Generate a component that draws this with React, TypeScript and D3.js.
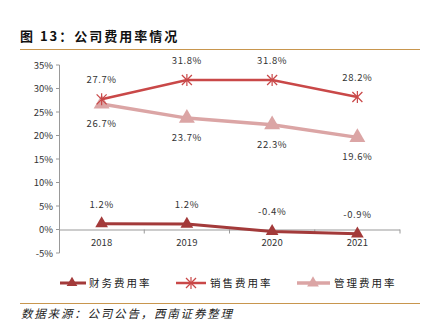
import React from "react";
import * as d3 from "d3";

const years = ["2018", "2019", "2020", "2021"];
const finance = [1.24, 1.17, -0.4, -0.9];
const sales = [27.7, 31.8, 31.8, 28.2];
const admin = [26.7, 23.7, 22.3, 19.6];
const yTicks = [-5, 0, 5, 10, 15, 20, 25, 30, 35];
const seriesNames = ["财务费用率", "销售费用率", "管理费用率"];

const W = 429, H = 331;
const font = "'Noto Sans CJK SC', 'DejaVu Sans', sans-serif";

export default function App() {
  const x = d3.scaleBand<string>().domain(years).range([59, 400]);
  const y = d3.scaleLinear().domain([-5, 35]).range([253, 65]);
  const cx = (d: string) => (x(d) as number) + x.bandwidth() / 2;
  const line = d3.line<number>().x((_, i) => cx(years[i])).y((v) => y(v));
  const tri = d3.symbol().type(d3.symbolTriangle);

  const cFin = "#A33A3A";
  const cSal = "#C94848";
  const cAdm = "#DBA5A5";

  const cross = (px: number, py: number, c: string, k: string) => (
    <g key={k} stroke={c} strokeWidth={1.2}>
      <line x1={px - 5} y1={py - 5} x2={px + 5} y2={py + 5} />
      <line x1={px - 5} y1={py + 5} x2={px + 5} y2={py - 5} />
      <line x1={px} y1={py - 6} x2={px} y2={py + 6} />
    </g>
  );

  const fmt = (v: number) => v.toFixed(1) + "%";

  return (
    <svg width={W} height={H} style={{ position: "absolute", left: 0, top: 0, background: "#fff" }} fontFamily={font}>
      <text x={20} y={41} fontSize={13} fontWeight="bold" fill="#111" letterSpacing={2}>图 13：公司费用率情况</text>
      <line x1={20} x2={420} y1={49.5} y2={49.5} stroke="#C8964E" strokeWidth={1} />

      {/* y axis */}
      <line x1={59.5} x2={59.5} y1={y(35)} y2={y(-5)} stroke="#999" />
      {yTicks.map((t) => (
        <g key={t}>
          <line x1={56} x2={59.5} y1={y(t)} y2={y(t)} stroke="#999" />
          <text x={53} y={y(t) + 3.5} fontSize={9.5} textAnchor="end" fill="#333">{t}%</text>
        </g>
      ))}
      {/* x axis */}
      <line x1={59.5} x2={400} y1={y(0) + 0.5} y2={y(0) + 0.5} stroke="#999" />
      {years.map((d) => (
        <g key={d}>
          <line x1={(x(d) as number) + x.bandwidth()} x2={(x(d) as number) + x.bandwidth()} y1={y(0)} y2={y(0) + 4} stroke="#999" />
          <text x={cx(d)} y={y(0) + 16} fontSize={9.5} textAnchor="middle" fill="#333">{d}</text>
        </g>
      ))}

      {/* admin */}
      <path d={line(admin) as string} fill="none" stroke={cAdm} strokeWidth={3.5} />
      {admin.map((v, i) => (
        <path key={i} d={tri.size(110)() as string} transform={`translate(${cx(years[i])},${y(v)})`} fill={cAdm} />
      ))}
      {admin.map((v, i) => (
        <text key={i} x={cx(years[i])} y={y(v) + 23} fontSize={9.5} textAnchor="middle" fill="#333" letterSpacing={0.6}>{fmt(v)}</text>
      ))}

      {/* sales */}
      <path d={line(sales) as string} fill="none" stroke={cSal} strokeWidth={2.5} />
      {sales.map((v, i) => cross(cx(years[i]), y(v), cSal, "s" + i))}
      {sales.map((v, i) => (
        <text key={i} x={cx(years[i])} y={y(v) - 16} fontSize={9.5} textAnchor="middle" fill="#333" letterSpacing={0.6}>{fmt(v)}</text>
      ))}

      {/* finance */}
      <path d={line(finance) as string} fill="none" stroke={cFin} strokeWidth={3} />
      {finance.map((v, i) => (
        <path key={i} d={tri.size(70)() as string} transform={`translate(${cx(years[i])},${y(v)})`} fill={cFin} />
      ))}
      {finance.map((v, i) => (
        <text key={i} x={cx(years[i])} y={y(v) - 16} fontSize={9.5} textAnchor="middle" fill="#333" letterSpacing={0.6}>{fmt(v)}</text>
      ))}

      {/* legend */}
      <g>
        <line x1={60} x2={86} y1={283} y2={283} stroke={cFin} strokeWidth={3} />
        <path d={tri.size(50)() as string} transform="translate(72,283)" fill={cFin} />
        <text x={89} y={287} fontSize={10.5} fill="#222" letterSpacing={2}>{seriesNames[0]}</text>
        <line x1={176} x2={206} y1={283} y2={283} stroke={cSal} strokeWidth={2.5} />
        {cross(191, 283, cSal, "lg")}
        <text x={210} y={287} fontSize={10.5} fill="#222" letterSpacing={2}>{seriesNames[1]}</text>
        <line x1={297} x2={330} y1={283} y2={283} stroke={cAdm} strokeWidth={3.5} />
        <path d={tri.size(60)() as string} transform="translate(313,283)" fill={cAdm} />
        <text x={334} y={287} fontSize={10.5} fill="#222" letterSpacing={2}>{seriesNames[2]}</text>
      </g>

      <line x1={20} x2={420} y1={303.5} y2={303.5} stroke="#C8964E" strokeWidth={1} />
      <text x={21} y={318} fontSize={11.5} fontStyle="italic" fill="#222" letterSpacing={1.8}>数据来源：公司公告，西南证券整理</text>
    </svg>
  );
}
